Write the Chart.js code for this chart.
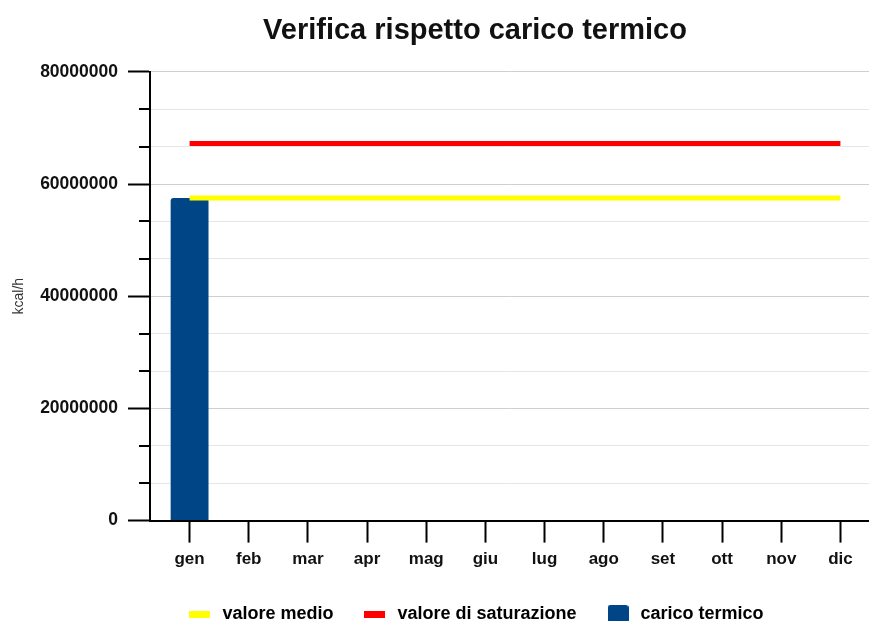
<!DOCTYPE html>
<html>
<head>
<meta charset="utf-8">
<script src="https://cdn.jsdelivr.net/npm/chart.js@4.4.0/dist/chart.umd.min.js"></script>
<style>
  html, body { margin: 0; padding: 0; background: #fff; overflow: hidden; }
</style>
</head>
<body>
<canvas id="myChart" width="950" height="633"></canvas>
<script>
// data
const months = ['gen', 'feb', 'mar', 'apr', 'mag', 'giu', 'lug', 'ago', 'set', 'ott', 'nov', 'dic'];
const caricoTermico = [57500000, null, null, null, null, null, null, null, null, null, null, null];
const valoreMedio = [57500000, 57500000, 57500000, 57500000, 57500000, 57500000, 57500000, 57500000, 57500000, 57500000, 57500000, 57500000];
const valoreSaturazione = [67200000, 67200000, 67200000, 67200000, 67200000, 67200000, 67200000, 67200000, 67200000, 67200000, 67200000, 67200000];
const yLabels = [0, 20000000, 40000000, 60000000, 80000000];
const minorPerMajor = 3;

Chart.defaults.font.family = "'Liberation Sans', Arial, sans-serif";

// little legend swatches (line = flat bar, bar = rounded square)
const swatch = (w, h, color, r) => {
  const c = document.createElement('canvas');
  c.width = w; c.height = h;
  const g = c.getContext('2d');
  g.fillStyle = color;
  g.beginPath();
  g.roundRect(0, 0, w, h, r);
  g.fill();
  return c;
};
const icons = [swatch(21, 7, '#ffff00', 0), swatch(21, 7, '#ff0000', 0), swatch(21, 18, '#004586', 3)];

// the y axis has minor ticks between the labelled ones
const buildYTicks = () => {
  const out = [];
  for (let i = 0; i < yLabels.length - 1; i++) {
    const step = (yLabels[i + 1] - yLabels[i]) / minorPerMajor;
    for (let k = 0; k < minorPerMajor; k++) out.push({ value: yLabels[i] + k * step });
  }
  out.push({ value: yLabels[yLabels.length - 1] });
  return out;
};

const axisTweaks = {
  id: 'axisTweaks',
  afterLayout(chart) {
    // categories start a little right of the y axis
    const x = chart.scales.x;
    x._startPixel += 10;
    x._length -= 10;
  },
  afterDraw(chart) {
    const y = chart.scales.y, ctx = chart.ctx;
    ctx.save();
    ctx.strokeStyle = '#000';
    ctx.lineWidth = 2;
    y.ticks.forEach((t, i) => {
      if (i % minorPerMajor === 0) return;
      const py = Math.round(y.getPixelForValue(t.value));
      ctx.beginPath();
      ctx.moveTo(y.right - 11, py);
      ctx.lineTo(y.right, py);
      ctx.stroke();
    });
    ctx.restore();
  }
};

const ctx = document.getElementById('myChart');

new Chart(ctx, {
  type: 'bar',
  data: {
    labels: months,
    datasets: [
      {
        type: 'line',
        label: 'valore medio',
        data: valoreMedio,
        borderColor: '#ffff00',
        backgroundColor: '#ffff00',
        borderWidth: 5,
        borderCapStyle: 'butt',
        pointRadius: 0,
        fill: false
      },
      {
        type: 'line',
        label: 'valore di saturazione',
        data: valoreSaturazione,
        borderColor: '#ff0000',
        backgroundColor: '#ff0000',
        borderWidth: 5,
        borderCapStyle: 'butt',
        pointRadius: 0,
        fill: false
      },
      {
        label: 'carico termico',
        data: caricoTermico,
        backgroundColor: '#004586',
        borderRadius: { topLeft: 3, topRight: 3 },
        borderSkipped: 'bottom',
        categoryPercentage: 0.8,
        barPercentage: 0.8
      }
    ]
  },
  options: {
    responsive: false,
    animation: false,
    layout: { padding: 0 },
    plugins: {
      title: {
        display: true,
        text: 'Verifica rispetto carico termico',
        color: '#111',
        font: { size: 29, weight: 'bold' },
        padding: { top: 14, bottom: 23 }
      },
      legend: {
        position: 'bottom',
        labels: {
          usePointStyle: true,
          pointStyleWidth: 27,
          padding: 28,
          color: '#222',
          font: { size: 18, weight: 'bold' },
          generateLabels: chart => chart.data.datasets.map((ds, i) => ({
            text: ds.label,
            pointStyle: icons[i],
            fillStyle: ds.backgroundColor,
            strokeStyle: ds.backgroundColor,
            lineWidth: 0,
            hidden: false,
            datasetIndex: i
          }))
        }
      },
      tooltip: { enabled: false }
    },
    scales: {
      x: {
        grid: {
          offset: false,
          drawOnChartArea: false,
          tickLength: 22,
          tickColor: '#000',
          tickWidth: 2
        },
        border: { color: '#000', width: 2 },
        ticks: {
          color: '#111',
          padding: 7,
          font: { size: 17, weight: 'bold' }
        }
      },
      y: {
        min: 0,
        max: 80000000,
        afterBuildTicks: s => { s.ticks = buildYTicks(); },
        afterFit: s => { s.width = 150; },
        grid: {
          color: c => c.index % minorPerMajor === 0 ? '#cfcfcf' : '#e6e6e6',
          tickLength: 22,
          tickWidth: 2,
          tickColor: c => c.index % minorPerMajor === 0 ? '#000' : 'rgba(0,0,0,0)'
        },
        border: { color: '#000', width: 2 },
        ticks: {
          color: '#111',
          padding: 10,
          font: { size: 17.5, weight: 'bold' },
          callback: (v, i) => i % minorPerMajor === 0 ? String(v) : ''
        },
        title: {
          display: true,
          text: 'kcal/h',
          color: '#333',
          font: { size: 14 },
          padding: { top: 11, bottom: 0 }
        }
      },
      // empty right axis, keeps room to the right so title and legend sit where they do
      y2: {
        position: 'right',
        display: true,
        afterFit: s => { s.width = 80; },
        grid: { drawOnChartArea: false, drawTicks: false },
        border: { display: false },
        ticks: { display: false }
      }
    }
  },
  plugins: [axisTweaks]
});
</script>
</body>
</html>
